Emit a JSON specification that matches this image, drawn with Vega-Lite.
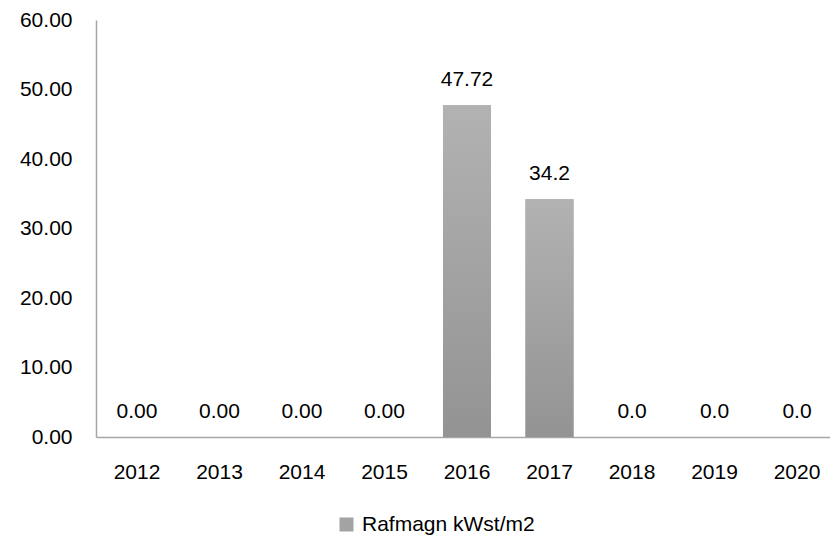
{
  "$schema": "https://vega.github.io/schema/vega-lite/v6.json",
  "autosize": {"type": "none"},
  "width": 733,
  "height": 417,
  "padding": {"left": 96, "top": 20, "right": 1, "bottom": 102},
  "background": "white",
  "config": {
    "view": {"stroke": null},
    "font": "Liberation Sans",
    "axis": {"labelFont": "Liberation Sans", "labelFontSize": 21, "labelColor": "#000000", "grid": false, "ticks": false, "domainColor": "#a6a6a6", "domainWidth": 1.5, "title": null},
    "legend": {"labelFont": "Liberation Sans", "labelFontSize": 21, "labelColor": "#000000", "labelLimit": 400}
  },
  "data": {
    "values": [
      {"year": "2012", "value": 0, "label": "0.00", "series": "Rafmagn kWst/m2"},
      {"year": "2013", "value": 0, "label": "0.00", "series": "Rafmagn kWst/m2"},
      {"year": "2014", "value": 0, "label": "0.00", "series": "Rafmagn kWst/m2"},
      {"year": "2015", "value": 0, "label": "0.00", "series": "Rafmagn kWst/m2"},
      {"year": "2016", "value": 47.72, "label": "47.72", "series": "Rafmagn kWst/m2"},
      {"year": "2017", "value": 34.2, "label": "34.2", "series": "Rafmagn kWst/m2"},
      {"year": "2018", "value": 0, "label": "0.0", "series": "Rafmagn kWst/m2"},
      {"year": "2019", "value": 0, "label": "0.0", "series": "Rafmagn kWst/m2"},
      {"year": "2020", "value": 0, "label": "0.0", "series": "Rafmagn kWst/m2"}
    ]
  },
  "encoding": {
    "x": {
      "field": "year", "type": "ordinal", "sort": null,
      "scale": {"paddingInner": 0.418, "paddingOuter": 0.206, "rangeMax": 742},
      "axis": {"labelAngle": 0, "labelPadding": 24}
    },
    "y": {
      "field": "value", "type": "quantitative",
      "scale": {"domain": [0, 60], "nice": false},
      "axis": {"values": [0, 10, 20, 30, 40, 50, 60], "format": ".2f", "labelPadding": 24}
    }
  },
  "layer": [
    {
      "mark": {"type": "bar"},
      "encoding": {
        "color": {
          "field": "series", "type": "nominal",
          "scale": {"range": ["#a3a3a3"]},
          "legend": {"orient": "none", "legendX": 240, "legendY": 494, "title": null, "symbolType": "square", "symbolSize": 196, "labelOffset": 5}
        }
      }
    },
    {
      "mark": {"type": "bar", "fill": {"gradient": "linear", "x1": 0, "y1": 0, "x2": 0, "y2": 1, "stops": [{"offset": 0, "color": "#b2b2b2"}, {"offset": 1, "color": "#939393"}]}},
      "encoding": {}
    },
    {
      "mark": {"type": "text", "baseline": "middle", "dy": -25, "fontSize": 21, "color": "#000000"},
      "encoding": {"text": {"field": "label"}}
    }
  ]
}
